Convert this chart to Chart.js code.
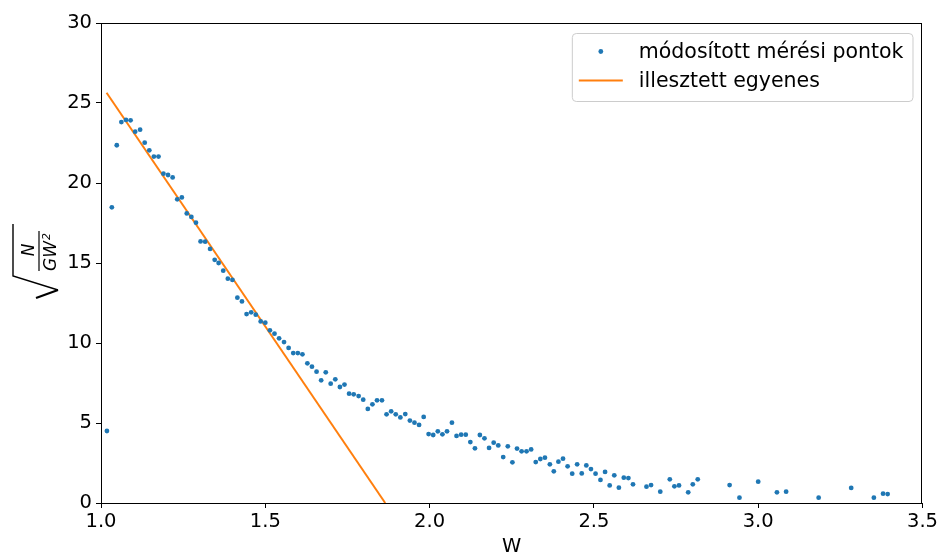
<!DOCTYPE html>
<html>
<head>
<meta charset="utf-8">
<script src="https://cdn.jsdelivr.net/npm/chart.js@4/dist/chart.umd.min.js"></script>
<style>
  html, body { margin: 0; padding: 0; background: #fff; }
  canvas { display: block; }
</style>
</head>
<body>
<canvas id="c" width="940" height="554"></canvas>
<script>
/* Messpunkte */
const xVals = [
  1.018, 1.033, 1.048, 1.062, 1.076, 1.090, 1.104, 1.119, 1.133, 1.147,
  1.161, 1.175, 1.190, 1.204, 1.218, 1.232, 1.246, 1.261, 1.275, 1.289,
  1.303, 1.317, 1.332, 1.346, 1.358, 1.372, 1.386, 1.400, 1.415, 1.429,
  1.443, 1.457, 1.471, 1.486, 1.500, 1.514, 1.528, 1.542, 1.557, 1.571,
  1.585, 1.599, 1.613, 1.628, 1.642, 1.656, 1.670, 1.684, 1.699, 1.713,
  1.727, 1.741, 1.755, 1.769, 1.784, 1.798, 1.812, 1.826, 1.840, 1.855,
  1.869, 1.883, 1.897, 1.911, 1.926, 1.940, 1.954, 1.968, 1.982, 1.997,
  2.011, 2.025, 2.039, 2.053, 2.068, 2.082, 2.096, 2.110, 2.124, 2.138,
  2.153, 2.167, 2.181, 2.195, 2.209, 2.224, 2.238, 2.252, 2.266, 2.280,
  2.295, 2.309, 2.323, 2.337, 2.351, 2.366, 2.378, 2.392, 2.406, 2.420,
  2.434, 2.449, 2.463, 2.477, 2.491, 2.505, 2.520, 2.534, 2.548, 2.562,
  2.576, 2.591, 2.605, 2.619, 2.660, 2.674, 2.702, 2.731, 2.745, 2.759,
  2.787, 2.801, 2.816, 2.913, 2.943, 3.000, 3.057, 3.085, 3.184, 3.283,
  3.352, 3.380, 3.394
];
const yVals = [
  4.5, 18.48, 22.36, 23.81, 23.94, 23.92, 23.21, 23.33, 22.52, 22.04,
  21.65, 21.65, 20.58, 20.5, 20.35, 18.98, 19.1, 18.1, 17.88, 17.52,
  16.35, 16.33, 15.88, 15.2, 15.0, 14.52, 14.02, 13.94, 12.83, 12.6,
  11.81, 11.92, 11.77, 11.35, 11.27, 10.79, 10.58, 10.29, 10.06, 9.69,
  9.37, 9.37, 9.29, 8.73, 8.52, 8.21, 7.67, 8.17, 7.46, 7.73,
  7.25, 7.40, 6.83, 6.79, 6.68, 6.46, 5.88, 6.17, 6.42, 6.42,
  5.54, 5.73, 5.54, 5.35, 5.56, 5.15, 5.02, 4.88, 5.38, 4.31,
  4.25, 4.48, 4.29, 4.48, 5.02, 4.19, 4.27, 4.27, 3.81, 3.42,
  4.25, 4.04, 3.44, 3.77, 3.60, 2.87, 3.54, 2.54, 3.40, 3.23,
  3.23, 3.35, 2.56, 2.75, 2.83, 2.42, 1.98, 2.58, 2.77, 2.29,
  1.83, 2.42, 1.85, 2.35, 2.12, 1.83, 1.44, 1.94, 1.10, 1.73,
  0.96, 1.58, 1.56, 1.17, 1.02, 1.12, 0.71, 1.48, 1.04, 1.10,
  0.67, 1.17, 1.48, 1.12, 0.33, 1.33, 0.67, 0.71, 0.33, 0.94,
  0.33, 0.58, 0.56
];
/* Endpunkte der illesztett egyenes */
const fitX = [1.017, 1.865];
const fitY = [25.64, 0];

const labels = ['módosított mérési pontok', 'illesztett egyenes'];
const FONT = '"DejaVu Sans", sans-serif';

/* Rahmen oben/rechts wie matplotlib */
const framePlugin = {
  id: 'frame',
  afterDraw(chart) {
    const { ctx, chartArea: a } = chart;
    ctx.save();
    ctx.strokeStyle = '#000';
    ctx.lineWidth = 1;
    ctx.strokeRect(Math.round(a.left) + 0.5, Math.round(a.top) + 0.5,
      Math.round(a.right - a.left) - 1, Math.round(a.bottom - a.top));
    ctx.restore();
  }
};

/* y-Achsentitel: Wurzel aus N / GW² */
const yTitlePlugin = {
  id: 'yTitle',
  afterDraw(chart) {
    const { ctx, chartArea: a } = chart;
    const cy = (a.top + a.bottom) / 2 - 13;
    ctx.save();
    ctx.translate(36, cy);
    ctx.rotate(-Math.PI / 2);
    ctx.strokeStyle = '#000';
    ctx.fillStyle = '#000';
    ctx.lineCap = 'butt';
    ctx.lineWidth = 1.4;
    ctx.beginPath();
    ctx.moveTo(-40, 22);
    ctx.lineTo(-26, -23);
    ctx.lineTo(26, -23);
    ctx.stroke();
    ctx.lineWidth = 2.2;
    ctx.beginPath();
    ctx.moveTo(-48, 0);
    ctx.lineTo(-40, 22);
    ctx.stroke();
    ctx.lineWidth = 1.2;
    ctx.beginPath();
    ctx.moveTo(-21, 3);
    ctx.lineTo(19, 3);
    ctx.stroke();
    ctx.font = 'italic 17px ' + FONT;
    ctx.textAlign = 'center';
    ctx.textBaseline = 'alphabetic';
    ctx.fillText('N', 0, -2);
    ctx.textAlign = 'left';
    ctx.fillText('GW', -21, 20);
    const w = ctx.measureText('GW').width;
    ctx.font = 'italic 11px ' + FONT;
    ctx.fillText('2', -21 + w + 1, 14);
    ctx.restore();
  }
};

/* Legende im matplotlib-Stil, oben rechts */
const legendPlugin = {
  id: 'mplLegend',
  afterDraw(chart) {
    const { ctx, chartArea: a } = chart;
    ctx.save();
    ctx.font = '20.5px ' + FONT;
    const tw = Math.max(...labels.map(t => ctx.measureText(t).width));
    const right = a.right - 10, top = a.top + 10;
    const w = 67 + tw + 9, h = 68;
    const left = right - w;
    ctx.beginPath();
    ctx.roundRect(left + 0.5, top + 0.5, w, h, 4);
    ctx.fillStyle = 'rgba(255,255,255,0.8)';
    ctx.fill();
    ctx.strokeStyle = '#cccccc';
    ctx.lineWidth = 1;
    ctx.stroke();
    /* Punkt */
    ctx.fillStyle = '#1f77b4';
    ctx.beginPath();
    ctx.arc(left + 29, top + 18.5, 2.4, 0, Math.PI * 2);
    ctx.fill();
    /* Linie */
    ctx.strokeStyle = '#ff7f0e';
    ctx.lineWidth = 2;
    ctx.beginPath();
    ctx.moveTo(left + 7, top + 47.5);
    ctx.lineTo(left + 51, top + 47.5);
    ctx.stroke();
    ctx.fillStyle = '#000';
    ctx.textBaseline = 'middle';
    ctx.textAlign = 'left';
    ctx.fillText(labels[0], left + 67, top + 20);
    ctx.fillText(labels[1], left + 67, top + 49);
    ctx.restore();
  }
};

const points = xVals.map((x, i) => ({ x, y: yVals[i] }));
const fitLine = fitX.map((x, i) => ({ x, y: fitY[i] }));

new Chart(document.getElementById('c'), {
  type: 'scatter',
  data: {
    datasets: [
      { label: labels[0], data: points, backgroundColor: '#1f77b4', borderWidth: 0,
        pointRadius: 2.4, pointHoverRadius: 2.4, order: 1 },
      { label: labels[1], data: fitLine, type: 'line', borderColor: '#ff7f0e', borderWidth: 2,
        pointRadius: 0, fill: false, tension: 0, order: 2 }
    ]
  },
  options: {
    responsive: false,
    animation: false,
    devicePixelRatio: 1,
    layout: { padding: { left: 0, right: 17, top: 23, bottom: 0 } },
    plugins: { legend: { display: false }, tooltip: { enabled: false } },
    scales: {
      x: {
        type: 'linear', min: 1.0, max: 3.5,
        afterFit: s => { s.height = 51; },
        ticks: { stepSize: 0.5, callback: v => v.toFixed(1), color: '#000',
                 font: { family: FONT, size: 19.5 }, padding: 2, maxRotation: 0 },
        grid: { drawOnChartArea: false, drawTicks: true, tickLength: 5, color: '#000', tickWidth: 1 },
        border: { display: true, color: '#000', width: 1 },
        title: { display: true, text: 'W', color: '#000', font: { family: FONT, size: 19.5 },
                 padding: { top: 0, bottom: -5 } }
      },
      y: {
        type: 'linear', min: 0, max: 30,
        afterFit: s => { s.width = 101; },
        ticks: { stepSize: 5, color: '#000', font: { family: FONT, size: 19.5 }, padding: 4 },
        grid: { drawOnChartArea: false, drawTicks: true, tickLength: 5, color: '#000', tickWidth: 1 },
        border: { display: true, color: '#000', width: 1 }
      }
    }
  },
  plugins: [framePlugin, yTitlePlugin, legendPlugin]
});
</script>
</body>
</html>
